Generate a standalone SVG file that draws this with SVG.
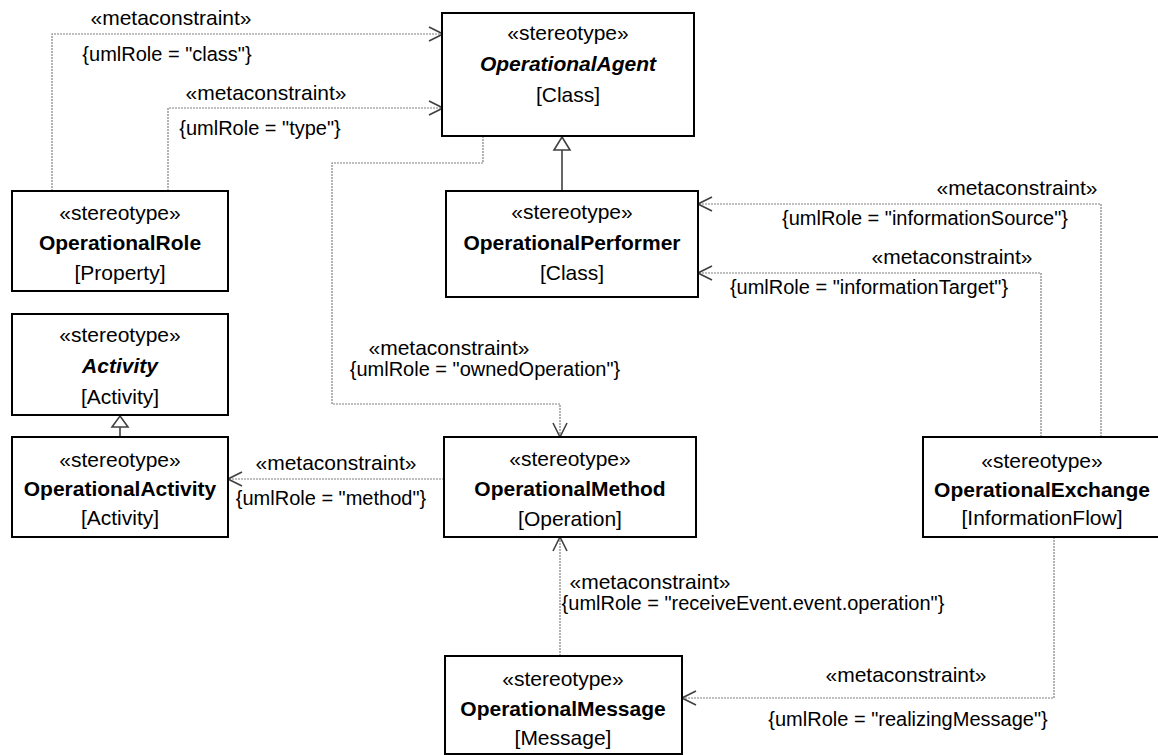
<svg xmlns="http://www.w3.org/2000/svg" width="1158" height="755" viewBox="0 0 1158 755">
<style>
text{font-family:"Liberation Sans",Arial,sans-serif;font-size:20px;fill:#000;dominant-baseline:central;text-anchor:middle}
.m{font-size:21px}
.n{font-weight:bold;font-size:21px}
.s{font-size:21px}
.i{font-style:italic}
.box{fill:#fff;stroke:#000;stroke-width:2}
.dep{fill:none;stroke:#808080;stroke-width:1.2;stroke-dasharray:2 1}
.gen{fill:none;stroke:#404040;stroke-width:1.6}
.tri{fill:#fff;stroke:#404040;stroke-width:1.6}
</style>
<defs>
<marker id="open" viewBox="0 0 16 16" refX="15" refY="8" markerWidth="16" markerHeight="16" markerUnits="userSpaceOnUse" orient="auto">
<path d="M1,1 L15,8 L1,15" fill="none" stroke="#404040" stroke-width="1.6"/>
</marker>
</defs>
<rect width="1158" height="755" fill="#fff"/>
<g id="connectors">
<path class="dep" d="M52,191 V34 H443" marker-end="url(#open)"/>
<path class="dep" d="M168,191 V108 H443" marker-end="url(#open)"/>
<path class="dep" d="M483,136 V163 H332 V404 H560 V437" marker-end="url(#open)"/>
<path class="dep" d="M1101,437 V204 H698" marker-end="url(#open)"/>
<path class="dep" d="M1041,437 V273 H698" marker-end="url(#open)"/>
<path class="dep" d="M444,479 H228" marker-end="url(#open)"/>
<path class="dep" d="M560,656 V537" marker-end="url(#open)"/>
<path class="dep" d="M1054,537 V698 H682" marker-end="url(#open)"/>
<path class="gen" d="M562,191 V150"/>
<path class="tri" d="M562,137 L570,150 L554,150 Z"/>
<path class="gen" d="M120,437 V427"/>
<path class="tri" d="M120,416 L128,427 L112,427 Z"/>
<text class="m" x="171" y="17">«metaconstraint»</text>
<text x="167" y="54">{umlRole = "class"}</text>
<text class="m" x="266" y="92">«metaconstraint»</text>
<text x="260" y="128">{umlRole = "type"}</text>
<text class="m" x="1017" y="187">«metaconstraint»</text>
<text x="925" y="218">{umlRole = "informationSource"}</text>
<text class="m" x="952" y="256">«metaconstraint»</text>
<text x="869" y="287">{umlRole = "informationTarget"}</text>
<text class="m" x="449" y="347">«metaconstraint»</text>
<text x="485" y="369">{umlRole = "ownedOperation"}</text>
<text class="m" x="336" y="462">«metaconstraint»</text>
<text x="331" y="498">{umlRole = "method"}</text>
<text class="m" x="650" y="581">«metaconstraint»</text>
<text x="753" y="603">{umlRole = "receiveEvent.event.operation"}</text>
<text class="m" x="906" y="674">«metaconstraint»</text>
<text x="908" y="719">{umlRole = "realizingMessage"}</text>
</g>
<g id="OperationalAgent">
<rect class="box" x="442" y="13" width="252" height="123"/>
<text class="s" x="568" y="32">«stereotype»</text>
<text class="n i" x="568" y="63">OperationalAgent</text>
<text class="s" x="568" y="94">[Class]</text>
</g>
<g id="OperationalRole">
<rect class="box" x="12" y="191" width="216" height="100"/>
<text class="s" x="120" y="212">«stereotype»</text>
<text class="n" x="120" y="242">OperationalRole</text>
<text class="s" x="120" y="272">[Property]</text>
</g>
<g id="OperationalPerformer">
<rect class="box" x="446" y="191" width="252" height="106"/>
<text class="s" x="572" y="211">«stereotype»</text>
<text class="n" x="572" y="242">OperationalPerformer</text>
<text class="s" x="572" y="272">[Class]</text>
</g>
<g id="Activity">
<rect class="box" x="12" y="314" width="216" height="101"/>
<text class="s" x="120" y="334">«stereotype»</text>
<text class="n i" x="120" y="365">Activity</text>
<text class="s" x="120" y="396">[Activity]</text>
</g>
<g id="OperationalActivity">
<rect class="box" x="12" y="437" width="216" height="100"/>
<text class="s" x="120" y="459">«stereotype»</text>
<text class="n" x="120" y="488">OperationalActivity</text>
<text class="s" x="120" y="517">[Activity]</text>
</g>
<g id="OperationalMethod">
<rect class="box" x="444" y="437" width="252" height="100"/>
<text class="s" x="570" y="458">«stereotype»</text>
<text class="n" x="570" y="488">OperationalMethod</text>
<text class="s" x="570" y="518">[Operation]</text>
</g>
<g id="OperationalExchange">
<rect class="box" x="923" y="437" width="238" height="100"/>
<text class="s" x="1042" y="460">«stereotype»</text>
<text class="n" x="1042" y="489">OperationalExchange</text>
<text class="s" x="1042" y="517">[InformationFlow]</text>
</g>
<g id="OperationalMessage">
<rect class="box" x="445" y="656" width="237" height="98"/>
<text class="s" x="563" y="678">«stereotype»</text>
<text class="n" x="563" y="708">OperationalMessage</text>
<text class="s" x="563" y="737">[Message]</text>
</g>
</svg>
